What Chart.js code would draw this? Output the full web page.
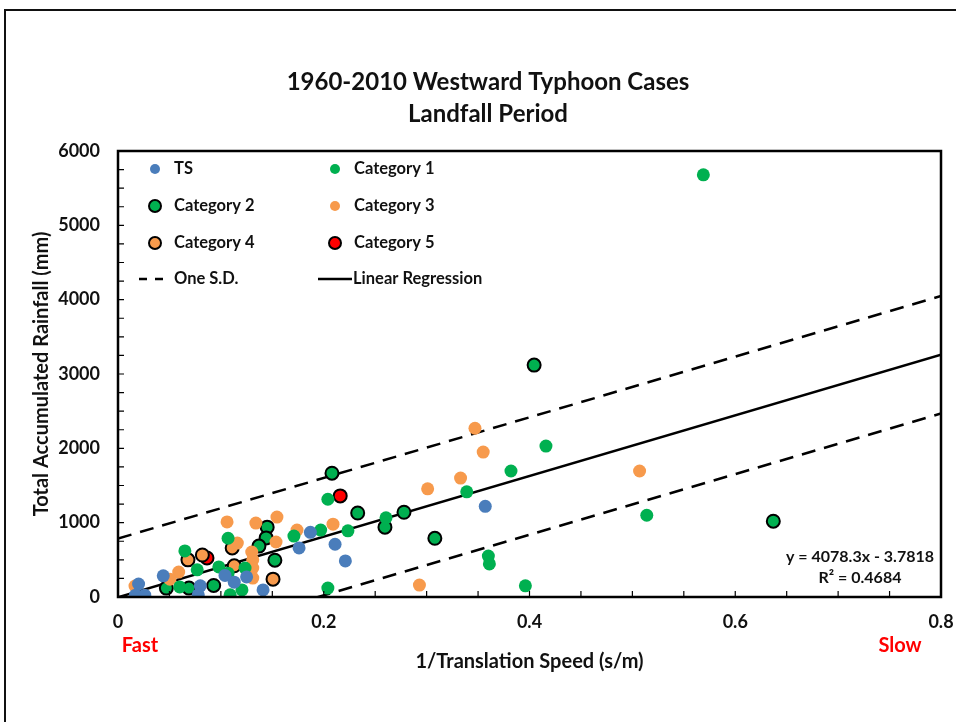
<!DOCTYPE html>
<html>
<head>
<meta charset="utf-8">
<title>Westward Typhoon Rainfall</title>
<script src="https://cdn.jsdelivr.net/npm/chart.js@4/dist/chart.umd.min.js"></script>
<style>
  html, body { margin: 0; padding: 0; background: #fff; }
  #wrap { position: relative; width: 956px; height: 722px; }
</style>
</head>
<body>
<div id="wrap"><canvas id="rainChart" width="956" height="722"></canvas></div>
<script>
// [1/translation speed (s/m), total rainfall (mm)] per storm, grouped by intensity
const tsPoints = [
  [0.357, 1220], [0.211, 710], [0.176, 660], [0.187, 870], [0.221, 485],
  [0.141, 95], [0.125, 270], [0.113, 200], [0.104, 290], [0.080, 150],
  [0.078, 30], [0.044, 285], [0.020, 175], [0.017, 25], [0.026, 25]
];
const cat1Points = [
  [0.569, 5680], [0.416, 2030], [0.382, 1695], [0.339, 1415], [0.514, 1100],
  [0.360, 550], [0.361, 445], [0.396, 150], [0.2605, 1065], [0.2235, 890],
  [0.197, 900], [0.204, 1315], [0.171, 820], [0.204, 120], [0.107, 790],
  [0.065, 620], [0.077, 365], [0.098, 405], [0.060, 135], [0.107, 320],
  [0.1235, 390], [0.1205, 95], [0.109, 30]
];
const cat2Points = [
  [0.4045, 3120], [0.637, 1020], [0.308, 790], [0.278, 1140], [0.2595, 940],
  [0.233, 1130], [0.208, 1665], [0.145, 940], [0.144, 795], [0.137, 685],
  [0.1525, 495], [0.093, 155], [0.069, 120], [0.047, 120]
];
const cat3Points = [
  [0.347, 2270], [0.355, 1950], [0.507, 1695], [0.333, 1600], [0.301, 1455],
  [0.293, 160], [0.209, 980], [0.174, 900], [0.1545, 1075], [0.134, 995],
  [0.106, 1010], [0.1536, 740], [0.116, 725], [0.130, 605], [0.131, 500],
  [0.131, 390], [0.131, 255], [0.059, 335], [0.0505, 240], [0.0165, 148]
];
const cat4Points = [
  [0.111, 660], [0.068, 500], [0.082, 565], [0.113, 420], [0.1507, 240]
];
const cat5Points = [
  [0.0865, 525], [0.216, 1360]
];

// fit y = 4078.3x - 3.7818 and +/- one standard deviation band
const regressionLine = [[0, -3.78], [0.8, 3258.9]];
const sdUpperLine = [[0, 786], [0.8, 4049]];
const sdLowerLine = [[0, -794], [0.8, 2469]];

const titleLines = ["1960-2010 Westward Typhoon Cases", "Landfall Period"];
const equationLines = ["y = 4078.3x - 3.7818", "R\u00B2 = 0.4684"];

const BLUE = "#4a7dbb";
const GREEN = "#00b050";
const ORANGE = "#f79a4c";
const RED = "#ff0000";
const FONT = "Lato, 'Open Sans', sans-serif";

const toXY = arr => arr.map(p => ({ x: p[0], y: p[1] }));

function dots(label, pts, color, outlined) {
  return {
    type: "scatter",
    label: label,
    data: toXY(pts),
    backgroundColor: color,
    borderColor: outlined ? "#000" : color,
    borderWidth: outlined ? 2 : 0,
    pointRadius: 6.5,
    pointHoverRadius: 6.5
  };
}

function line(label, pts, dash) {
  return {
    type: "line",
    label: label,
    data: toXY(pts),
    borderColor: "#000",
    borderWidth: 2.5,
    borderDash: dash,
    pointRadius: 0,
    fill: false,
    tension: 0
  };
}

const datasets = [
  dots("TS", tsPoints, BLUE, false),
  dots("Category 1", cat1Points, GREEN, false),
  dots("Category 3", cat3Points, ORANGE, false),
  dots("Category 2", cat2Points, GREEN, true),
  dots("Category 4", cat4Points, ORANGE, true),
  dots("Category 5", cat5Points, RED, true),
  line("One S.D.", sdUpperLine, [14, 9]),
  line("One S.D. (lower)", sdLowerLine, [14, 9]),
  line("Linear Regression", regressionLine, [])
];

// legend grid: [dataset label, column, row]
const legendLayout = [
  ["TS", 0, 0], ["Category 1", 1, 0],
  ["Category 2", 0, 1], ["Category 3", 1, 1],
  ["Category 4", 0, 2], ["Category 5", 1, 2],
  ["One S.D.", 0, 3], ["Linear Regression", 1, 3]
];

// frame, title, plot box, inner tick marks, legend and annotations
const decorations = {
  id: "decorations",
  beforeDraw(chart) {
    const ctx = chart.ctx;
    ctx.save();
    ctx.strokeStyle = "#111";
    ctx.lineWidth = 2;
    ctx.beginPath();
    ctx.moveTo(5, 722);
    ctx.lineTo(5, 10);
    ctx.lineTo(956, 10);
    ctx.stroke();

    ctx.fillStyle = "#111";
    ctx.font = "bold 24px " + FONT;
    ctx.textAlign = "center";
    ctx.textBaseline = "middle";
    ctx.fillText(titleLines[0], 488, 82);
    ctx.fillText(titleLines[1], 488, 114);
    ctx.restore();
  },
  afterDraw(chart) {
    const ctx = chart.ctx;
    const a = chart.chartArea;
    const xs = chart.scales.x, ys = chart.scales.y;
    ctx.save();

    ctx.strokeStyle = "#000";
    ctx.lineWidth = 2.5;
    ctx.strokeRect(a.left, a.top, a.right - a.left, a.bottom - a.top);

    ctx.lineWidth = 1.2;
    ctx.beginPath();
    xs.ticks.forEach(t => {
      const px = xs.getPixelForValue(t.value);
      ctx.moveTo(px, a.bottom);
      ctx.lineTo(px, a.bottom - 6);
    });
    ys.ticks.forEach(t => {
      const py = ys.getPixelForValue(t.value);
      ctx.moveTo(a.left, py);
      ctx.lineTo(a.left + 6, py);
    });
    ctx.stroke();

    // legend
    const colX = [155, 335];
    const rowY = [169, 206, 243, 279];
    ctx.font = "bold 16.5px " + FONT;
    ctx.textBaseline = "middle";
    ctx.textAlign = "left";
    legendLayout.forEach(([label, c, r]) => {
      const ds = chart.data.datasets.find(d => d.label === label);
      const cx = colX[c], cy = rowY[r];
      if (ds.type === "scatter") {
        ctx.beginPath();
        ctx.arc(cx, cy, ds.borderWidth ? 6 : 5, 0, Math.PI * 2);
        ctx.fillStyle = ds.backgroundColor;
        ctx.fill();
        if (ds.borderWidth) {
          ctx.lineWidth = 2;
          ctx.strokeStyle = "#000";
          ctx.stroke();
        }
        ctx.fillStyle = "#111";
        ctx.fillText(label, cx + 19, cy);
      } else if (ds.borderDash.length) {
        ctx.strokeStyle = "#000";
        ctx.lineWidth = 2.5;
        ctx.beginPath();
        ctx.moveTo(139, cy); ctx.lineTo(147, cy);
        ctx.moveTo(155, cy); ctx.lineTo(163, cy);
        ctx.stroke();
        ctx.fillStyle = "#111";
        ctx.fillText(label, cx + 19, cy);
      } else {
        ctx.strokeStyle = "#000";
        ctx.lineWidth = 2.5;
        ctx.beginPath();
        ctx.moveTo(318, cy); ctx.lineTo(352, cy);
        ctx.stroke();
        ctx.fillStyle = "#111";
        ctx.fillText(label, 353, cy);
      }
    });

    // regression equation
    ctx.font = "bold 16px " + FONT;
    ctx.textAlign = "center";
    ctx.fillStyle = "#111";
    ctx.fillText(equationLines[0], 860, 557);
    ctx.fillText(equationLines[1], 860, 578);

    // speed direction hints
    ctx.font = "bold 20px " + FONT;
    ctx.fillStyle = RED;
    ctx.fillText("Fast", 140, 646);
    ctx.fillText("Slow", 900, 646);
    ctx.restore();
  }
};

new Chart(document.getElementById("rainChart"), {
  data: { datasets: datasets },
  plugins: [decorations],
  options: {
    responsive: false,
    animation: false,
    events: [],
    layout: { padding: { left: 0, top: 151, right: 15, bottom: 0 } },
    plugins: {
      legend: { display: false },
      tooltip: { enabled: false }
    },
    scales: {
      x: {
        type: "linear",
        min: 0,
        max: 0.8,
        afterFit: s => {
          s.height = 125;
          s.paddingLeft = 0;
          s.paddingRight = 0;
        },
        grid: { display: false, drawTicks: false },
        border: { display: false },
        ticks: {
          stepSize: 0.05,
          autoSkip: false,
          maxRotation: 0,
          padding: 14,
          color: "#111",
          font: { family: FONT, size: 18, weight: "bold" },
          callback: v => {
            const h = Math.round(v * 100);
            if (h % 20 !== 0) return "";
            return h === 0 ? "0" : (h / 100).toFixed(1);
          }
        },
        title: {
          display: true,
          text: "1/Translation Speed (s/m)",
          color: "#111",
          font: { family: FONT, size: 20, weight: "bold" },
          padding: { top: 0, bottom: 48 }
        }
      },
      y: {
        type: "linear",
        min: 0,
        max: 6000,
        afterFit: s => { s.width = 118; },
        grid: { display: false, drawTicks: false },
        border: { display: false },
        ticks: {
          stepSize: 250,
          autoSkip: false,
          padding: 18,
          color: "#111",
          font: { family: FONT, size: 18, weight: "bold" },
          callback: v => (v % 1000 === 0 ? String(v) : "")
        },
        title: {
          display: true,
          text: "Total Accumulated Rainfall (mm)",
          color: "#111",
          font: { family: FONT, size: 20, weight: "bold" },
          padding: { top: 30, bottom: 0 }
        }
      }
    }
  }
});
</script>
</body>
</html>
